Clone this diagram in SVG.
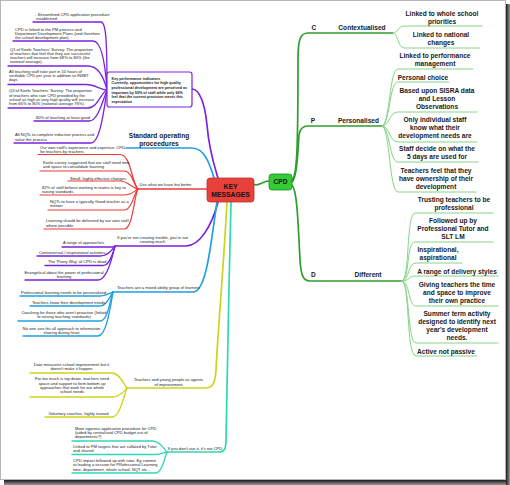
<svg xmlns="http://www.w3.org/2000/svg" width="510" height="485" viewBox="0 0 510 485">
<defs>
<linearGradient id="shB" x1="0" y1="0" x2="0" y2="1"><stop offset="0" stop-color="#1a1a1a"/><stop offset="1" stop-color="#9a9a9a"/></linearGradient>
<linearGradient id="shR" x1="0" y1="0" x2="1" y2="0"><stop offset="0" stop-color="#1a1a1a"/><stop offset="1" stop-color="#9a9a9a"/></linearGradient>
</defs>
<style>
.t{font-family:"Liberation Sans",Arial,sans-serif;font-size:4.1px;fill:#222}
.m{text-anchor:middle}
.k{font-family:"Liberation Sans",Arial,sans-serif;font-size:3.7px;font-weight:bold;fill:#1a1a1a}
.b{font-family:"Liberation Sans",Arial,sans-serif;font-weight:bold;font-size:6.6px;fill:#1a1a1a;text-anchor:middle}
.n{font-family:"Liberation Sans",Arial,sans-serif;font-weight:bold;fill:#111;text-anchor:middle}
#connectors path{fill:none;stroke-linecap:round;stroke-linejoin:round}
.pu{stroke:#7a22e0;stroke-width:1.3}
.bl{stroke:#1ea0e3;stroke-width:1.3}
.rd{stroke:#ee3a3a;stroke-width:1.2}
.ye{stroke:#cfd21a;stroke-width:1.3}
.te{stroke:#2ed8b6;stroke-width:1.3}
.gm{stroke:#2f9e2f;stroke-width:1.3}
.gl{stroke:#86d486;stroke-width:1}
.main{stroke-width:1.7}
</style>
<rect x="0" y="0" width="510" height="485" fill="#fff"/>
<rect x="0.5" y="0.5" width="505" height="479" fill="#fff" stroke="#b5b5b5" stroke-width="1"/>
<rect x="4" y="480" width="506" height="5" fill="url(#shB)"/>
<rect x="506" y="4" width="4" height="481" fill="url(#shR)"/>

<g id="connectors">
<!-- key messages to CPD -->
<path class="gm main" d="M254,185 C262,185 262,181 269,181"/>
<!-- CPD branches -->
<path class="gm main" d="M292,180 C297,176 298,150 298,60 C298,40 300,33 308,33 H393"/>
<path class="gm main" d="M292,182 C297,178 298,150 299,135 C300,128 303,126 308,126 H382"/>
<path class="gm main" d="M292,185 C297,190 298,220 300,260 C301,275 303,281 310,281 H402"/>
<!-- C leaves -->
<path class="gl" d="M393,33 C398,33 398,26 404,26 H482"/>
<path class="gl" d="M393,33 C398,33 398,48 404,48 H480"/>
<!-- P leaves -->
<path class="gl" d="M382,126 C390,126 389,69 398,69 H473"/>
<path class="gl" d="M382,126 C390,126 389,82 398,82 H449"/>
<path class="gl" d="M382,126 C390,126 389,112 398,112 H477"/>
<path class="gl" d="M382,126 C390,126 389,142 398,142 H477"/>
<path class="gl" d="M382,126 C390,126 389,162 398,162 H478"/>
<path class="gl" d="M382,126 C390,126 389,192 398,192 H476"/>
<!-- D leaves -->
<path class="gl" d="M402,281 C410,281 406,213 415,213 H493"/>
<path class="gl" d="M402,281 C410,281 406,242 415,242 H493"/>
<path class="gl" d="M402,281 C410,281 407,263 416,263 H462"/>
<path class="gl" d="M402,281 C410,281 408,276 416,276 H498"/>
<path class="gl" d="M402,281 C410,281 408,306 416,306 H498"/>
<path class="gl" d="M402,281 C410,281 407,343 416,343 H498"/>
<path class="gl" d="M402,281 C410,281 406,356 416,356 H477"/>
<!-- purple top -->
<path class="pu main" d="M192,89 C200,89 205,105 207,125 C209,150 214,165 218,178"/>
<path class="pu" d="M33,22 H101 C106,22 107,40 107,90"/>
<path class="pu" d="M13,41 H93 C101,41 105,60 107,90"/>
<path class="pu" d="M8,66 H88 C98,66 104,78 107,90"/>
<path class="pu" d="M8,84.5 H86 C96,84.5 100,90 107,90"/>
<path class="pu" d="M8,108 H88 C98,108 101,92 107,90"/>
<path class="pu" d="M34,121 H89 C98,121 103,100 107,90"/>
<path class="pu" d="M14,143 H91 C100,143 104,110 107,90"/>
<!-- blue standard operating -->
<path class="bl main" d="M126,148 H192 C205,148 210,165 214,178"/>
<!-- red -->
<path class="rd main" d="M207,189 H138"/>
<path class="rd" d="M38,154.5 H120 C131,154.5 132,184 138,189"/>
<path class="rd" d="M40,171 H124 C132,171 134,186 138,189"/>
<path class="rd" d="M68,181 H120 C128,181 132,188 138,189"/>
<path class="rd" d="M40,195 H124 C132,195 134,191 138,189"/>
<path class="rd" d="M48,210 H124 C132,210 134,193 138,189"/>
<path class="rd" d="M44,229 H124 C133,229 134,196 138,189"/>
<!-- purple second -->
<path class="pu main" d="M218,202 C212,225 200,246 186,246 H115"/>
<path class="pu" d="M62,247 H115"/>
<path class="pu" d="M37,256 H100 C108,256 112,250 115,246"/>
<path class="pu" d="M45,265.5 H103 C110,265.5 113,252 115,246"/>
<path class="pu" d="M25,280 H98 C107,280 112,258 115,246"/>
<!-- blue second -->
<path class="bl main" d="M217,202 C211,240 207,292 193,292 H113"/>
<path class="bl" d="M20,296 H100 C106,296 110,293 113,292"/>
<path class="bl" d="M30,306 H100 C107,306 110,296 113,292"/>
<path class="bl" d="M18,321 H100 C108,321 110,300 113,292"/>
<path class="bl" d="M23,336 H98 C106,336 110,310 113,292"/>
<!-- yellow -->
<path class="ye main" d="M227,202 C224,260 218,330 216,370 C215,385 212,388 205,388 H127"/>
<path class="ye" d="M30,373 H112 C120,373 124,385 127,388"/>
<path class="ye" d="M30,397 H112 C120,397 124,391 127,388"/>
<path class="ye" d="M45,417 H112 C120,417 124,395 127,388"/>
<!-- teal -->
<path class="te main" d="M231,202 C229,280 227,380 226,440 C226,450 224,452 218,452 H167"/>
<path class="te" d="M72,441 H152 C160,441 163,448 167,452"/>
<path class="te" d="M72,454.5 H155 C160,454.5 163,453 167,452"/>
<path class="te" d="M72,473 H155 C162,473 164,460 167,452"/>
</g>

<g id="key-messages">
<rect x="207" y="178" width="47" height="24" rx="3" fill="#e8403a" stroke="#c23029" stroke-width="0.8"/>
<text class="n" font-size="6.8"><tspan x="230.5" y="189.1">KEY</tspan><tspan x="230.5" y="197.4">MESSAGES</tspan></text>
</g>
<g id="cpd">
<rect x="269" y="174" width="23" height="16" rx="3" fill="#33cc33" stroke="#1f8f1f" stroke-width="0.8"/>
<text class="n" font-size="6.6" x="280.5" y="184.4">CPD</text>
</g>

<!-- right side -->
<g id="c-contextualised"><text class="b" x="314" y="30.3">C</text><text class="b" x="362" y="30.3">Contextualised</text></g>
<g id="c1"><text class="b"><tspan x="442" y="15.6">Linked to whole school</tspan><tspan x="442" y="23.6">priorities</tspan></text></g>
<g id="c2"><text class="b"><tspan x="441" y="37">Linked to national</tspan><tspan x="441" y="45">changes</tspan></text></g>
<g id="p-personalised"><text class="b" x="313" y="123.3">P</text><text class="b" x="358.5" y="123.3">Personalised</text></g>
<g id="p1"><text class="b"><tspan x="435" y="58.3">Linked to performance</tspan><tspan x="435" y="66.3">management</tspan></text></g>
<g id="p2"><text class="b" x="423" y="80">Personal choice</text></g>
<g id="p3"><text class="b"><tspan x="437" y="93">Based upon SISRA data</tspan><tspan x="437" y="101">and Lesson</tspan><tspan x="437" y="109">Observations</tspan></text></g>
<g id="p4"><text class="b"><tspan x="435" y="122">Only individual staff</tspan><tspan x="435" y="130">know what their</tspan><tspan x="435" y="138.3">development needs are</tspan></text></g>
<g id="p5"><text class="b"><tspan x="437" y="151.3">Staff decide on what the</tspan><tspan x="437" y="159.3">5 days are used for</tspan></text></g>
<g id="p6"><text class="b"><tspan x="436" y="172.6">Teachers feel that they</tspan><tspan x="436" y="180.6">have ownership of their</tspan><tspan x="436" y="188.6">development</tspan></text></g>
<g id="d-different"><text class="b" x="313.5" y="277.3">D</text><text class="b" x="368" y="277.3">Different</text></g>
<g id="d1"><text class="b"><tspan x="454" y="202.3">Trusting teachers to be</tspan><tspan x="454" y="210">professional</tspan></text></g>
<g id="d2"><text class="b"><tspan x="453" y="223.3">Followed up by</tspan><tspan x="453" y="231.3">Professional Tutor and</tspan><tspan x="453" y="239">SLT LM</tspan></text></g>
<g id="d3"><text class="b"><tspan x="438" y="252.3">Inspirational,</tspan><tspan x="438" y="260.3">aspirational</tspan></text></g>
<g id="d4"><text class="b" x="457" y="274">A range of delivery styles</text></g>
<g id="d5"><text class="b"><tspan x="457" y="287">Giving teachers the time</tspan><tspan x="457" y="295">and space to improve</tspan><tspan x="457" y="303">their own practice</tspan></text></g>
<g id="d6"><text class="b"><tspan x="457" y="316.3">Summer term activity</tspan><tspan x="457" y="324.3">designed to identify next</tspan><tspan x="457" y="332.3">year's development</tspan><tspan x="457" y="340.3">needs.</tspan></text></g>
<g id="d7"><text class="b" x="446" y="353.6">Active not passive</text></g>

<!-- KPI box -->
<g id="kpi">
<rect x="107" y="72" width="85" height="35" rx="2.5" fill="#fff" stroke="#7a22e0" stroke-width="1.2"/>
<text class="k"><tspan x="111.5" y="79.5">Key performance indicators</tspan><tspan x="111.5" y="84.2">Currently, opportunities for high quality</tspan><tspan x="111.5" y="88.9">professional development are perceived as</tspan><tspan x="111.5" y="93.6">important by 90% of staff while only 66%</tspan><tspan x="111.5" y="98.3">feel that the current provision meets this</tspan><tspan x="111.5" y="103">expectation</tspan></text>
</g>
<!-- purple top leaves -->
<g id="pt1"><text class="t"><tspan x="35" y="15.7">- Streamlined CPD application procedure</tspan><tspan x="36" y="19.9">established.</tspan></text></g>
<g id="pt2"><text class="t"><tspan x="15" y="30.7">CPD is linked to the PM process and</tspan><tspan x="15" y="34.9">Department Development Plans (and therefore</tspan><tspan x="15" y="39.1">the school development plan).</tspan></text></g>
<g id="pt3"><text class="t"><tspan x="10" y="50.6">Q1 of Keele Teachers' Survey: The proportion</tspan><tspan x="10" y="54.8">of teachers that feel that they are successful</tspan><tspan x="10" y="59">teachers will increase from 68% to 80% (the</tspan><tspan x="10" y="63.2">national average).</tspan></text></g>
<g id="pt4"><text class="t"><tspan x="9" y="73">All teaching staff take part in 10 hours of</tspan><tspan x="9" y="77.2">verifiable CPD per year in addition to INSET</tspan><tspan x="9" y="81.4">days</tspan></text></g>
<g id="pt5"><text class="t"><tspan x="9" y="92.4">Q3 of Keele Teachers' Survey: The proportion</tspan><tspan x="9" y="96.6">of teachers who rate CPD provided by the</tspan><tspan x="9" y="100.8">school as high or very high quality will increase</tspan><tspan x="9" y="105">from 66% to 80% (national average 76%).</tspan></text></g>
<g id="pt6"><text class="t" x="36" y="119">80% of teaching at least good</text></g>
<g id="pt7"><text class="t"><tspan x="15" y="136.4">All NQTs to complete induction process and</tspan><tspan x="15" y="140.6">value the process</tspan></text></g>

<g id="standard-operating"><text class="b"><tspan x="159" y="138.3">Standard operating</tspan><tspan x="159" y="146.3">proceedures</tspan></text></g>

<g id="use-what-we-have"><text class="t m" x="165.5" y="186.4">Use what we have but better</text></g>
<g id="r1"><text class="t"><tspan x="40" y="148.6">Our own staff's experience and expertise: CPD</tspan><tspan x="40" y="152.8">for teachers by teachers.</tspan></text></g>
<g id="r2"><text class="t"><tspan x="43" y="164">Keele survey suggested that our staff need time</tspan><tspan x="43" y="168.4">and space to consolidate learning</tspan></text></g>
<g id="r3"><text class="t" x="70" y="179.7">Small, highly effective changes</text></g>
<g id="r4"><text class="t"><tspan x="42" y="188.6">82% of staff believe working in teams is key to</tspan><tspan x="42" y="192.8">raising standards</tspan></text></g>
<g id="r5"><text class="t"><tspan x="50" y="203">NQTs to have a typically Good teacher as a</tspan><tspan x="50" y="207.2">mentor</tspan></text></g>
<g id="r6"><text class="t"><tspan x="46" y="222.4">Learning should be delivered by our own staff</tspan><tspan x="46" y="226.8">where possible</tspan></text></g>

<g id="not-creating-trouble"><text class="t m"><tspan x="152.5" y="239">If you're not creating trouble, you're not</tspan><tspan x="152.5" y="243.2">creating much</tspan></text></g>
<g id="q1"><text class="t" x="63" y="244.3">A range of approaches</text></g>
<g id="q2"><text class="t" x="39" y="253.7">Controversial / inspirational activities</text></g>
<g id="q3"><text class="t" x="48" y="263.4">The 'Priory Way' of CPD is dead</text></g>
<g id="q4"><text class="t m"><tspan x="64" y="273.7">Evangelical about the power of professional</tspan><tspan x="64" y="278">learning</tspan></text></g>

<g id="mixed-ability"><text class="t" x="117" y="289.4">Teachers are a mixed ability group of learners</text></g>
<g id="b1"><text class="t" x="21" y="294">Professional learning needs to be personalised</text></g>
<g id="b2"><text class="t" x="32" y="304">Teachers know their development needs</text></g>
<g id="b3"><text class="t m"><tspan x="64" y="313.7">Coaching for those who aren't proactive (linked</tspan><tspan x="64" y="318">to raising teaching standards)</tspan></text></g>
<g id="b4"><text class="t m"><tspan x="61.5" y="329.7">No one size fits all approach to information</tspan><tspan x="61.5" y="333.9">sharing during Inset</tspan></text></g>

<g id="agents"><text class="t m"><tspan x="168.5" y="381.4">Teachers and young people as agents</tspan><tspan x="168.5" y="385.7">of improvement</tspan></text></g>
<g id="y1"><text class="t m"><tspan x="71.5" y="365.7">Data measures school improvement but it</tspan><tspan x="71.5" y="370">doesn't make it happen</tspan></text></g>
<g id="y2"><text class="t m"><tspan x="72" y="380.4">Far too much is top down, teachers need</tspan><tspan x="72" y="384.6">space and support to form bottom up</tspan><tspan x="72" y="388.8">approaches that work for our whole</tspan><tspan x="72" y="393">school needs</tspan></text></g>
<g id="y3"><text class="t m" x="78.5" y="414.7">Voluntary coaches, highly trained</text></g>

<g id="dont-use-it"><text class="t m" x="195" y="449.7">If you don't use it, it's not CPD</text></g>
<g id="te1"><text class="t"><tspan x="75" y="429.7">More rigorous  application procedure for CPD</tspan><tspan x="75" y="434">(aided by centralised CPD budget out of</tspan><tspan x="75" y="438.2">departments?)</tspan></text></g>
<g id="te2"><text class="t"><tspan x="73" y="448">Linked to PM targets that are collated by Tutor</tspan><tspan x="73" y="452.2">and shared</tspan></text></g>
<g id="te3"><text class="t"><tspan x="73" y="462">CPD impact followed up with tutor. Eg commit</tspan><tspan x="73" y="466.3">to leading a session for PRofessional Learning</tspan><tspan x="73" y="470.5">time, department, whole school, NQT etc...</tspan></text></g>
</svg>
